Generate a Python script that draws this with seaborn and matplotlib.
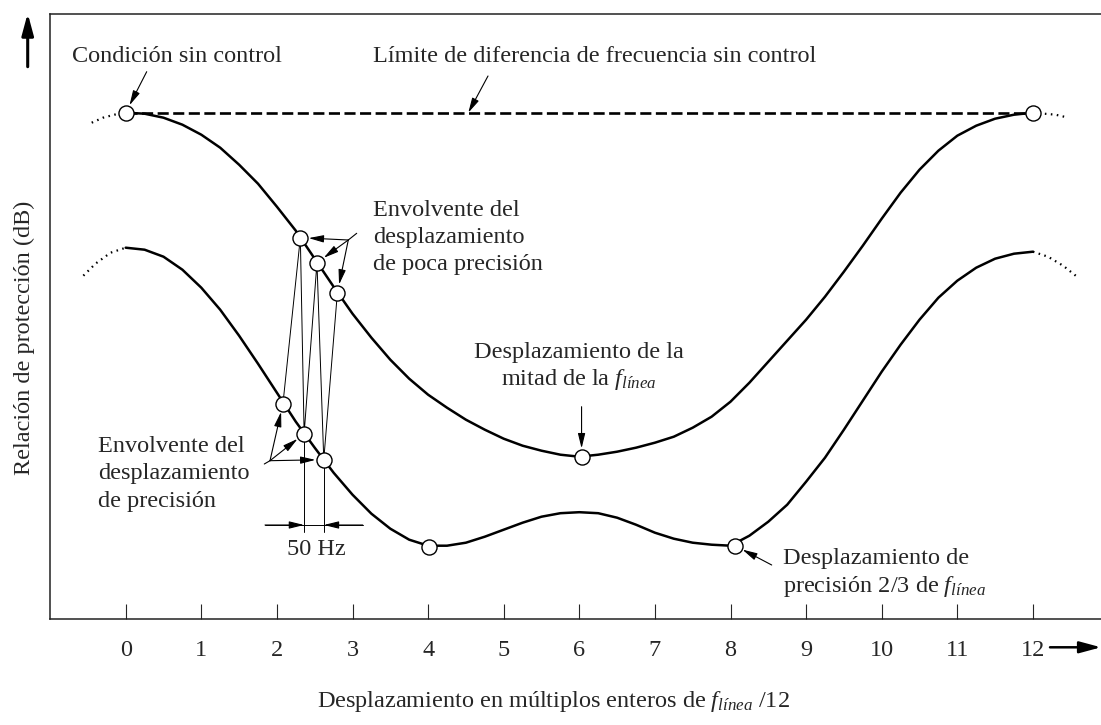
import numpy as np
import matplotlib
matplotlib.use('Agg')
import matplotlib.pyplot as plt
import seaborn as sns

# x positions in multiples of f_linea/12 where the curves were read
shift_x = np.arange(0, 12.25, 0.25)

# protection ratio readings (arbitrary dB scale, no ticks on the original)
upper_db = [50.6, 50.5, 50.1, 49.4, 48.4, 47.1, 45.4, 43.5, 41.2, 38.8, 36.0, 33.2, 30.5,
            28.1, 25.9, 24.0, 22.4, 21.1, 19.9, 18.9, 18.0, 17.3, 16.8, 16.4, 16.2,
            16.4, 16.7, 17.1, 17.6, 18.2, 19.1, 20.2, 21.7, 23.6, 25.7, 27.8, 29.9,
            32.2, 34.7, 37.3, 40.0, 42.6, 44.9, 46.8, 48.3, 49.3, 50.0, 50.4, 50.6]
lower_db = [37.1, 36.9, 36.2, 34.9, 33.1, 30.9, 28.3, 25.5, 22.6, 19.7, 17.1, 14.6, 12.4,
            10.5, 9.0, 7.9, 7.3, 7.3, 7.6, 8.2, 8.9, 9.6, 10.2, 10.55, 10.65,
            10.55, 10.1, 9.4, 8.6, 8.0, 7.6, 7.4, 7.3, 8.3, 9.7, 11.4, 13.7,
            16.1, 18.9, 21.8, 24.7, 27.4, 29.9, 32.1, 33.8, 35.1, 36.0, 36.5, 36.7]

# dotted continuations outside 0..12
upper_left_x, upper_left_db = [-0.45, -0.3, -0.15, 0], [49.6, 50.1, 50.4, 50.6]
upper_right_x, upper_right_db = [12, 12.15, 12.3, 12.47], [50.6, 50.5, 50.4, 50.1]
lower_left_x, lower_left_db = [-0.56, -0.4, -0.2, 0], [34.3, 35.5, 36.6, 37.1]
lower_right_x, lower_right_db = [12, 12.2, 12.4, 12.6], [36.7, 36.2, 35.3, 34.1]

# uncontrolled limit (dashed)
limit_x = [0, 12]
limit_db = [50.6, 50.6]

# marked offsets (circles)
upper_marks_x = [0, 2.31, 2.53, 2.80, 6.03, 12]
upper_marks_db = [50.6, 38.1, 35.6, 32.6, 16.2, 50.6]
lower_marks_x = [2.08, 2.36, 2.62, 4.01, 8.06]
lower_marks_db = [21.5, 18.5, 15.9, 7.2, 7.3]

tick_values = list(range(13))
tick_labels = [str(v) for v in tick_values]

FS = 17.5
sns.set_style('white')
plt.rcParams['font.family'] = ['Liberation Serif', 'DejaVu Serif']
plt.rcParams['mathtext.fontset'] = 'custom'
plt.rcParams['mathtext.rm'] = 'Liberation Serif'
plt.rcParams['mathtext.it'] = 'Liberation Serif:italic'

fig = plt.figure(figsize=(11.01, 7.25), dpi=100)
ax = fig.add_axes([50 / 1101, 1 - 618.7 / 725, 1 - 50 / 1101, 604.7 / 725])

# pixel -> data helper, only for placing labels
def dpos(px, py):
    return ((px - 125.7) / 75.6, (618.7 - py) / 10.0)

# main curves
sns.lineplot(x=shift_x, y=upper_db, color='black', linewidth=1.8, ax=ax)
sns.lineplot(x=shift_x, y=lower_db, color='black', linewidth=1.8, ax=ax)
for xs, ys in [(upper_left_x, upper_left_db), (upper_right_x, upper_right_db),
               (lower_left_x, lower_left_db), (lower_right_x, lower_right_db)]:
    sns.lineplot(x=xs, y=ys, color='black', linewidth=1.6, linestyle=(0, (0.7, 2.0)), ax=ax)
sns.lineplot(x=limit_x, y=limit_db, color='black', linewidth=1.9, ax=ax)
ax.lines[-1].set_dashes([4.2, 1.7])

# zigzag between coarse and precision offsets
zig_x = [lower_marks_x[0], upper_marks_x[1], lower_marks_x[1], upper_marks_x[2], lower_marks_x[2], upper_marks_x[3]]
zig_db = [lower_marks_db[0], upper_marks_db[1], lower_marks_db[1], upper_marks_db[2], lower_marks_db[2], upper_marks_db[3]]
sns.lineplot(x=zig_x, y=zig_db, sort=False, color='black', linewidth=0.7, ax=ax)

# 50 Hz dimension
bar_y = dpos(0, 525)[1]
bar_bottom = dpos(0, 531.7)[1]
for i in (1, 2):
    ax.plot([lower_marks_x[i], lower_marks_x[i]], [lower_marks_db[i], bar_bottom], color='black', lw=0.7)
ax.plot([dpos(265, 0)[0], dpos(362.7, 0)[0]], [bar_y, bar_y], color='black', lw=0.7)

ax.scatter(upper_marks_x, upper_marks_db, s=118, facecolor='white', edgecolor='black', linewidth=1.0, zorder=5)
ax.scatter(lower_marks_x, lower_marks_db, s=118, facecolor='white', edgecolor='black', linewidth=1.0, zorder=5)

def arrow(start, end, shrink=0.0):
    ax.annotate('', xy=end, xytext=start,
                arrowprops=dict(arrowstyle='-|>,head_length=0.9,head_width=0.22', mutation_scale=10,
                                color='black', lw=0.8, shrinkA=0, shrinkB=shrink))

arrow(dpos(265, 525), (lower_marks_x[1], bar_y))
arrow(dpos(362.7, 525), (lower_marks_x[2], bar_y))

arrow(dpos(146.7, 71.7), (upper_marks_x[0], upper_marks_db[0]), 6)
arrow(dpos(488, 76), (dpos(468.3, 0)[0], limit_db[0]))
arrow((upper_marks_x[4], dpos(0, 406.7)[1]), (upper_marks_x[4], upper_marks_db[4]), 6)
arrow(dpos(771.7, 565), (lower_marks_x[4], lower_marks_db[4]), 6)

j1 = dpos(348.3, 240)
t1 = dpos(356.7, 233.3)
ax.plot([t1[0], j1[0]], [t1[1], j1[1]], color='black', lw=0.8)
for i in (1, 2, 3):
    arrow(j1, (upper_marks_x[i], upper_marks_db[i]), 6)

j2 = dpos(270, 460.7)
t2 = dpos(264.3, 464)
ax.plot([t2[0], j2[0]], [t2[1], j2[1]], color='black', lw=0.8)
for i in (0, 1, 2):
    arrow(j2, (lower_marks_x[i], lower_marks_db[i]), 6)

# annotation texts
FL = r'$f_{línea}$'
def label(px, py, s, ha='left'):
    x, y = dpos(px, py)
    ax.text(x, y, s, fontsize=FS, ha=ha, va='baseline')

label(71.7, 61.5, 'Condición sin control')
label(373, 61.5, 'Límite de diferencia de frecuencia sin control')
label(372.7, 216, 'Envolvente del')
label(372.7, 243, 'desplazamiento')
label(372.7, 270, 'de poca precisión')
label(98.3, 451.7, 'Envolvente del')
label(98.3, 479, 'desplazamiento')
label(98.3, 506.5, 'de precisión')
label(579, 358.3, 'Desplazamiento de la', ha='center')
label(579, 385, 'mitad de la ' + FL, ha='center')
label(783.3, 564.3, 'Desplazamiento de')
label(783.3, 591.7, 'precisión 2/3 de ' + FL)
label(316.5, 555, '50 Hz', ha='center')

# axes
ax.set_xlim(dpos(50, 0)[0], dpos(1101, 0)[0])
ax.set_ylim(0, dpos(0, 14)[1])
ax.set_xticks(tick_values)
ax.set_xticklabels(tick_labels, fontsize=FS)
ax.set_yticks([])
ax.tick_params(axis='x', direction='in', length=10.8, width=0.8, pad=15.5, bottom=True)
ax.spines['right'].set_visible(False)
for side in ('top', 'left', 'bottom'):
    ax.spines[side].set_linewidth(1.1)
    ax.spines[side].set_color('#222222')

ax.set_xlabel('Desplazamiento en múltiplos enteros de ' + FL + ' /12', fontsize=FS, va='baseline')
ax.xaxis.set_label_coords((553 - 50) / 1051, (618.7 - 707) / 604.7)
ax.set_ylabel('Relación de protección (dB)', fontsize=FS, va='center')
ax.yaxis.set_label_coords((24 - 50) / 1051, (618.7 - 338) / 604.7)

# axis direction arrows
big = dict(arrowstyle='-|>,head_length=1.3,head_width=0.35', mutation_scale=10, color='black', lw=2.2,
           shrinkA=0, shrinkB=0)
ax.annotate('', xy=(27.7 / 1101, 1 - 13.3 / 725), xytext=(27.7 / 1101, 1 - 66.7 / 725),
            xycoords='figure fraction', arrowprops=big, annotation_clip=False)
ax.annotate('', xy=(1101 / 1101, 1 - 647.3 / 725), xytext=(1050 / 1101, 1 - 647.3 / 725),
            xycoords='figure fraction', arrowprops=dict(big, lw=1.8), annotation_clip=False)

fig.savefig('out.png', dpi=100)
